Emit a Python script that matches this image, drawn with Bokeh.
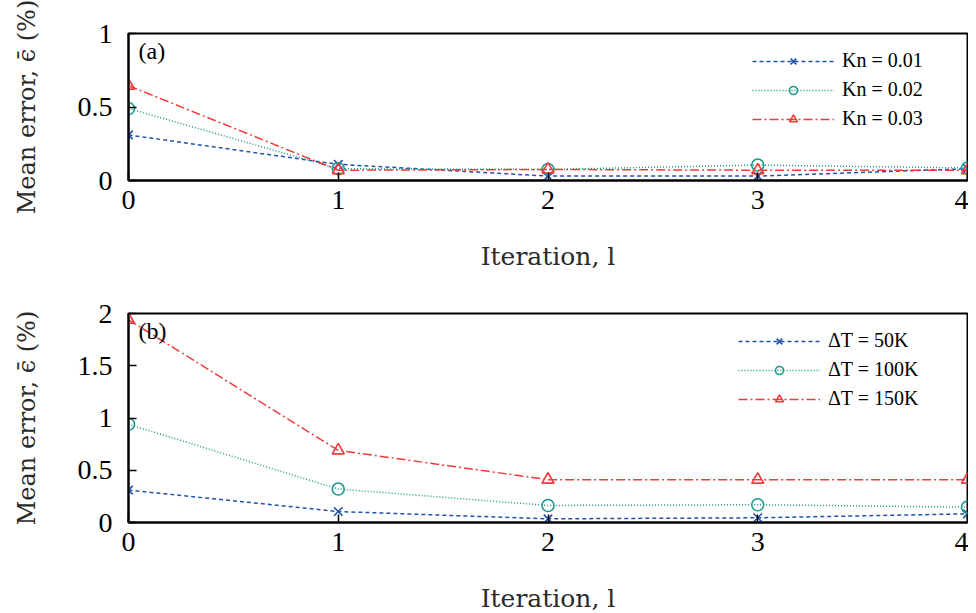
from bokeh.plotting import figure
from bokeh.layouts import column
from bokeh.models import Label, Legend, LegendItem, FixedTicker, Range1d
from bokeh.embed import file_html
from bokeh.resources import INLINE

iterations = [0, 1, 2, 3, 4]

# Panel (a): Knudsen number
kn_labels = ["Kn = 0.01", "Kn = 0.02", "Kn = 0.03"]
kn_001 = [0.31, 0.11, 0.03, 0.03, 0.08]
kn_002 = [0.49, 0.08, 0.075, 0.105, 0.085]
kn_003 = [0.645, 0.07, 0.075, 0.07, 0.07]

# Panel (b): temperature difference
dt_labels = ["\u0394T = 50K", "\u0394T = 100K", "\u0394T = 150K"]
dt_50 = [0.31, 0.105, 0.035, 0.045, 0.083]
dt_100 = [0.94, 0.32, 0.163, 0.17, 0.147]
dt_150 = [1.94, 0.69, 0.41, 0.41, 0.41]

x_ticks = [0, 1, 2, 3, 4]
ya_ticks = [0, 0.5, 1]
yb_ticks = [0, 0.5, 1, 1.5, 2]

FONT = "Liberation Serif"
TITLE_FONT = "DejaVu Serif"
COLORS = ["#2152ac", "#1c9a8e", "#f03a3a"]
DASHES = ["4 3", "1 2", "9 3 2 3"]
MARKERS = ["x", "circle", "triangle"]


def make_panel(series, labels, yticks, ymax, tag, frame_h, border_top, border_bottom,
               legend_loc):
    p = figure(frame_width=839, frame_height=frame_h, output_backend="svg",
               toolbar_location=None,
               x_range=Range1d(0, 4), y_range=Range1d(0, ymax),
               min_border_left=128, min_border_right=1,
               min_border_top=border_top, min_border_bottom=border_bottom)
    p.grid.visible = False
    p.outline_line_color = "black"
    p.outline_line_width = 2
    p.background_fill_color = "white"
    p.border_fill_color = "white"

    items = []
    for ys, lab, col, dash, mk in zip(series, labels, COLORS, DASHES, MARKERS):
        r1 = p.line(iterations, ys, line_color=col, line_dash=dash, line_width=1.5)
        r2 = p.scatter(iterations, ys, marker=mk, size=12, line_color=col,
                       fill_color=None, line_width=1.6)
        items.append(LegendItem(label=lab, renderers=[r1, r2]))

    leg = Legend(items=items, location=legend_loc, border_line_alpha=0,
                 background_fill_alpha=0, label_text_font=FONT,
                 label_text_font_size="20px", label_text_color="black",
                 glyph_width=82, glyph_height=20,
                 spacing=6, margin=0, padding=4, label_standoff=8)
    p.add_layout(leg)

    p.xaxis.ticker = FixedTicker(ticks=x_ticks)
    p.yaxis.ticker = FixedTicker(ticks=yticks)
    p.yaxis.major_label_overrides = {t: ("%g" % t) for t in yticks}
    for ax in (p.xaxis, p.yaxis):
        ax.major_tick_in = 8
        ax.major_tick_out = 0
        ax.minor_tick_line_color = None
        ax.axis_line_color = "black"
        ax.axis_line_width = 2
        ax.major_tick_line_color = "black"
        ax.major_tick_line_width = 1.5
        ax.major_label_text_font = FONT
        ax.major_label_text_font_size = "28px"
        ax.major_label_text_color = "black"
        ax.major_label_text_line_height = 1.0
        ax.axis_label_text_font = TITLE_FONT
        ax.axis_label_text_font_style = "normal"
        ax.axis_label_text_color = "#2a2a2a"
        ax.axis_label_text_line_height = 1.0
    p.xaxis.axis_label_text_font_size = "25px"
    p.yaxis.axis_label_text_font_size = "24px"
    p.xaxis.major_label_standoff = 10
    p.yaxis.major_label_standoff = 16
    p.xaxis.axis_label = "Iteration, l"
    p.yaxis.axis_label = "Mean error, \u03f5\u0304 (%)"
    p.xaxis.axis_label_standoff = 30
    p.yaxis.axis_label_standoff = 34

    p.add_layout(Label(x=10, y=frame_h - 4,
                       x_units="screen", y_units="screen", text=tag,
                       text_font=FONT, text_font_size="24px",
                       text_color="black", text_baseline="top"))
    return p


pa = make_panel([kn_001, kn_002, kn_003], kn_labels, ya_ticks, 1, "(a)",
                147, 33, 110, (620, 46))
pb = make_panel([dt_50, dt_100, dt_150], dt_labels, yb_ticks, 2, "(b)",
                209, 23, 80, (606, 108))

layout = column(pa, pb, spacing=0)
open("out.html", "w").write(file_html(layout, INLINE))
